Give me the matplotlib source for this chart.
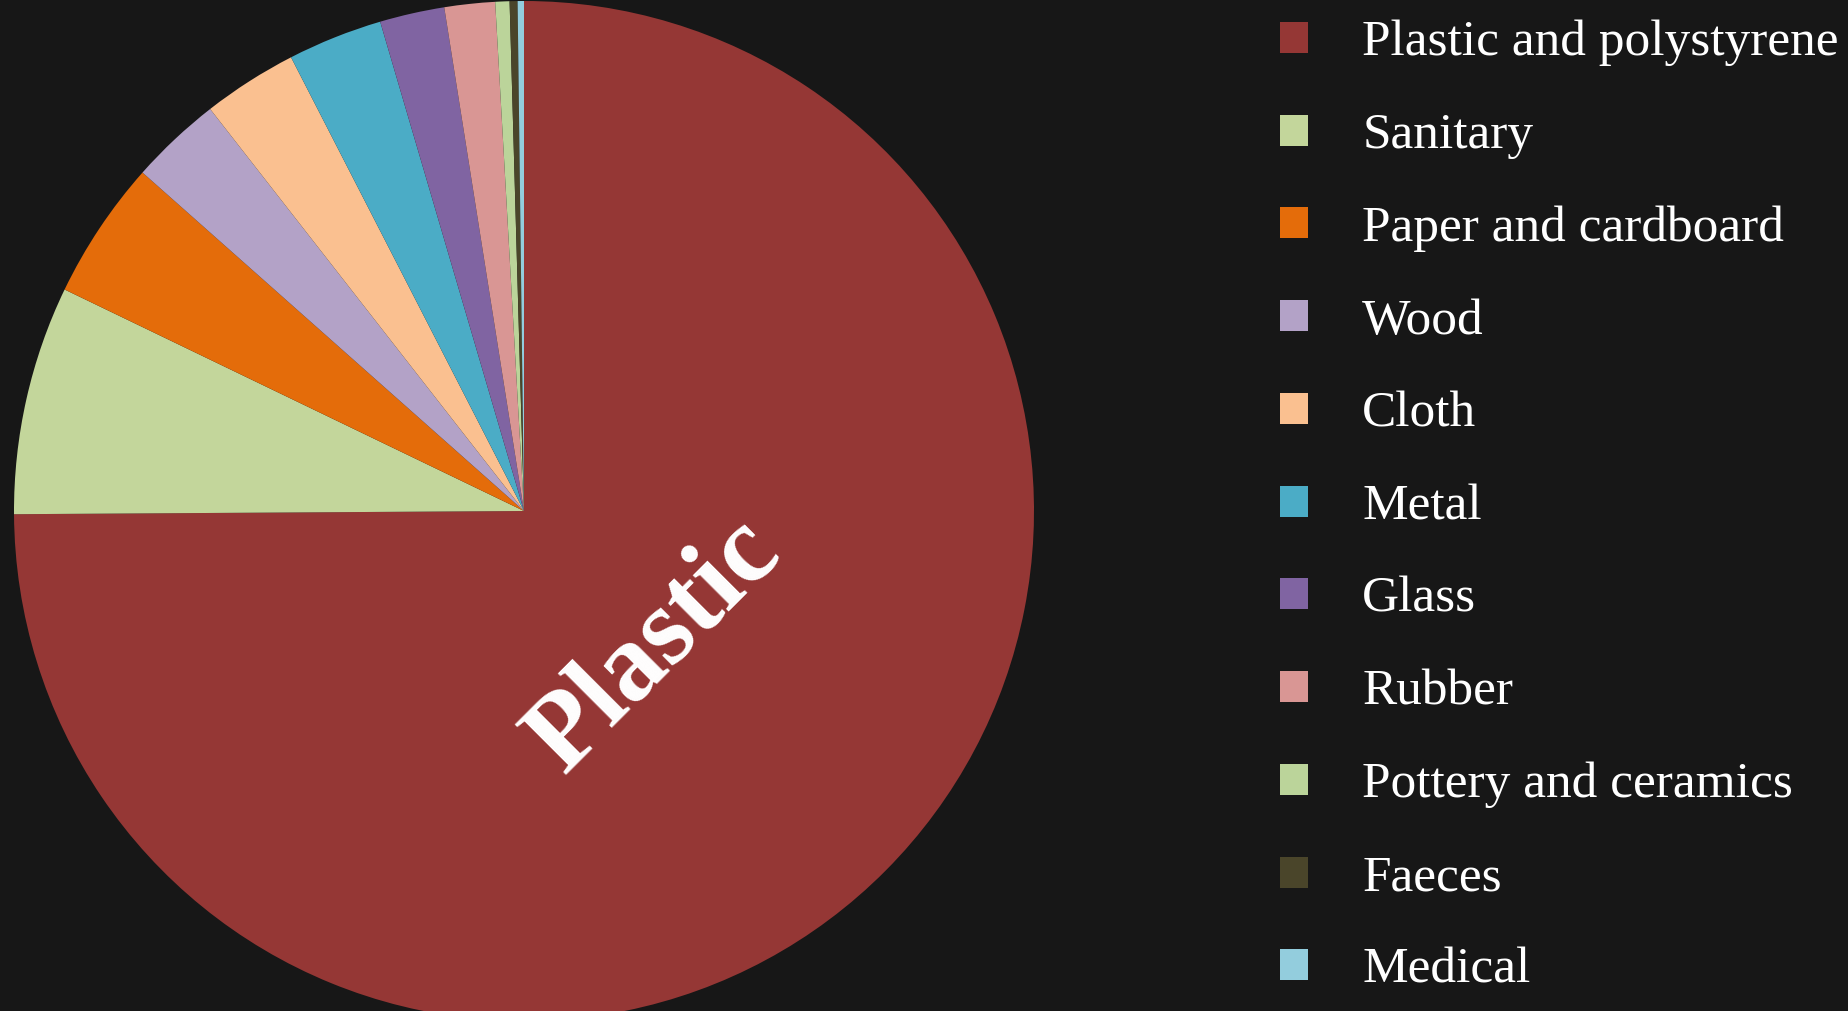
import matplotlib
matplotlib.use("Agg")
import matplotlib.pyplot as plt
from matplotlib.patches import Patch

# ----------------------------------------------------------------------
# DATA (percent of items)
# ----------------------------------------------------------------------
categories = ["Plastic and polystyrene", "Sanitary", "Paper and cardboard", "Wood",
              "Cloth", "Metal", "Glass", "Rubber", "Pottery and ceramics",
              "Faeces", "Medical"]
shares = [74.9, 7.25, 4.4, 2.9, 3.0, 3.0, 2.05, 1.6, 0.45, 0.25, 0.2]
colors = ["#953735", "#C3D69B", "#E46C0A", "#B3A2C7", "#FAC090", "#4BACC6",
          "#8064A2", "#D99694", "#BBD49A", "#4A452A", "#93CDDD"]
big_label = "Plastic"

BG = "#171717"
plt.rcParams["font.family"] = ["Liberation Serif", "DejaVu Serif"]

fig = plt.figure(figsize=(18.49, 10.11), dpi=100, facecolor=BG)

# pie axes: centre ~ (524, 511) px, radius ~ 510 px
W, H = 1849, 1011
cx, cy, r = 524, 511, 510
ax = fig.add_axes([(cx - r) / W, (H - cy - r) / H, 2 * r / W, 2 * r / H])
ax.set_facecolor(BG)
ax.pie(shares, colors=colors, startangle=90, counterclock=False, radius=1,
       wedgeprops=dict(linewidth=0))
ax.set_xlim(-1, 1)
ax.set_ylim(-1, 1)
ax.set_aspect("equal")
ax.axis("off")

ax.text(0.255, -0.265, big_label, rotation=45, ha="center", va="center",
        color="white", fontsize=79, fontweight="bold")

# ----------------------------------------------------------------------
# LEGEND
# ----------------------------------------------------------------------
handles = [Patch(facecolor=c, edgecolor="none") for c in colors]
fig.legend(handles, categories, loc="upper left",
           bbox_to_anchor=(1280 / W, 1 - 20 / H), frameon=False,
           fontsize=37, labelcolor="white",
           handlelength=0.55, handleheight=0.55, handletextpad=1.05,
           labelspacing=0.9, borderpad=0, borderaxespad=0)

plt.savefig("out.png", dpi=100, facecolor=BG)
